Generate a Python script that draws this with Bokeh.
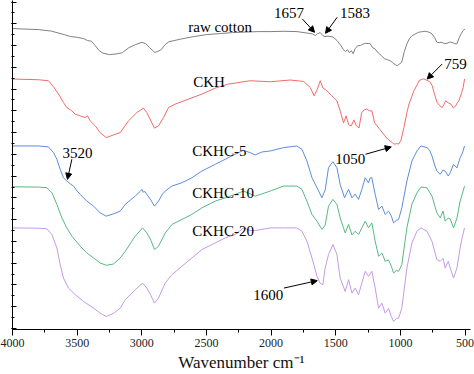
from bokeh.plotting import figure
from bokeh.models import Arrow, NormalHead, Label, SingleIntervalTicker, Range1d, CustomJSTickFormatter
from bokeh.embed import file_html
from bokeh.resources import INLINE

# ---------------- data (wavenumber in cm-1, offset transmittance in a.u.) ----------------
wn_raw = [4000, 3800, 3700, 3600, 3550, 3500, 3450, 3420, 3390, 3360, 3330, 3300, 3250, 3200,
          3150, 3100, 3050, 3000, 2970, 2940, 2900, 2880, 2850, 2820, 2790, 2750, 2700, 2600,
          2500, 2400, 2300, 2200, 2100, 2000, 1900, 1800, 1720, 1680, 1657, 1640, 1620, 1600,
          1583, 1560, 1520, 1490, 1460, 1440, 1425, 1410, 1395, 1380, 1365, 1350, 1330, 1310,
          1290, 1270, 1250, 1235, 1215, 1195, 1180, 1160, 1140, 1120, 1100, 1080, 1060, 1040,
          1025, 1005, 990, 970, 950, 930, 910, 880, 860, 830, 808, 780, 756, 735, 718, 700,
          680, 660, 640, 620, 602, 580, 563, 545, 530, 515, 500]
t_raw = [299, 298, 296.5, 293, 291, 290.3, 289, 287, 286.5, 282, 277, 274.5, 273, 273.7,
         275, 280, 283, 285.3, 284, 280, 275.3, 276, 278, 283, 286, 287, 288.5, 291,
         293, 294, 295, 295.5, 296, 296, 296.3, 296, 294.5, 293.7, 292, 294, 295, 292,
         291, 291.5, 290.5, 287, 282, 278, 276, 278, 275, 277, 274, 279, 282, 282,
         283.5, 284.3, 284, 284.3, 280, 278.7, 276, 273.7, 271, 268.7, 268, 267, 265, 263,
         262, 264, 265.3, 276, 283.7, 289, 292, 294, 295.3, 296, 296.3, 295.5, 293.7, 290, 285.3, 285,
         285.3, 284, 284.3, 285.5, 285.3, 284, 283.7, 290, 294, 297, 298.7]

wn_ckh = [4000, 3800, 3722, 3683, 3644, 3606, 3580, 3541, 3515, 3476, 3438, 3420, 3399, 3360,
          3322, 3275, 3219, 3167, 3103, 3038, 2987, 2961, 2902, 2871, 2832, 2793, 2742, 2639,
          2535, 2432, 2329, 2278, 2162, 2007, 1852, 1749, 1698, 1667, 1642, 1620, 1599, 1568,
          1530, 1491, 1466, 1440, 1420, 1400, 1380, 1360, 1340, 1320, 1300, 1280, 1260, 1240,
          1220, 1200, 1180, 1160, 1140, 1120, 1100, 1080, 1060, 1050, 1030, 1012, 995, 973,
          950, 934, 910, 896, 870, 857, 830, 818, 800, 787, 770, 754, 735, 716, 695, 677,
          660, 651, 630, 612, 590, 574, 560, 548, 530, 515, 504]
t_ckh = [248.7, 248, 247, 241, 233.7, 225.3, 220.3, 217, 213.7, 212, 210.3, 212, 207, 202,
         195.3, 190.3, 193, 195.3, 207, 215.3, 219.7, 215.3, 199.7, 202, 210.3, 220.3, 223.7, 228.7,
         233.7, 239.7, 243.7, 244.7, 247, 246, 247.7, 246.3, 240.3, 232, 238.7, 247, 239.7, 237,
         232, 227, 217, 205, 212, 203, 202, 208, 202, 200, 215, 218, 218.7, 217,
         217, 205, 202, 198.7, 195.3, 192, 189, 187, 185, 183.7, 184.3, 184, 188, 200.3,
         215, 223.7, 232, 237, 243, 247, 248.7, 248.7, 247.7, 247, 245.5, 242, 233, 225.3, 222, 220.3,
         224, 227, 225, 224, 220, 221.7, 225, 227, 233.7, 240, 248.7]

wn_c5 = [4000, 3800, 3722, 3683, 3657, 3631, 3606, 3580, 3548, 3528, 3500, 3476, 3425, 3373,
         3322, 3275, 3219, 3167, 3128, 3051, 3010, 2999, 2990, 2975, 2961, 2930, 2902, 2871,
         2840, 2819, 2767, 2690, 2613, 2535, 2432, 2355, 2278, 2213, 2162, 2123, 2070, 2007,
         1904, 1801, 1762, 1723, 1684, 1645, 1607, 1582, 1556, 1522, 1491, 1466, 1432, 1415,
         1401, 1375, 1350, 1324, 1298, 1272, 1260, 1247, 1235, 1221, 1195, 1169, 1143, 1118,
         1092, 1070, 1053, 1030, 1014, 989, 950, 911, 872, 841, 795, 775, 756, 735, 718, 692,
         670, 654, 630, 615, 589, 563, 538, 520, 504]
t_c5 = [182, 182, 181, 175.3, 168.7, 158.7, 150.3, 147, 143.7, 142, 137, 133.7, 127, 122,
        115.3, 112, 114.3, 117, 123.7, 132, 137, 138.7, 136, 136.5, 133.7, 128, 122, 127,
        134, 137, 142, 145.3, 150.3, 157, 163.7, 168.7, 173.7, 177.7, 175.3, 173, 176, 177,
        180.3, 182, 178.7, 167, 150.3, 140.3, 130.3, 138, 160.3, 166.3, 160.3, 143.7, 130.3, 135,
        138.7, 130.3, 134, 128.7, 138.7, 150.3, 148, 145, 150, 150.3, 133.7, 118.7, 122, 113.7,
        117, 112, 105.3, 108, 108.7, 120.3, 147, 167, 177, 182, 180.3, 178, 172, 163, 157, 153.7,
        158, 157, 152, 155.3, 163.7, 160, 170.3, 175, 182]

wn_c10 = [4000, 3800, 3734, 3695, 3657, 3618, 3580, 3541, 3476, 3425, 3373, 3322, 3275, 3219,
          3167, 3128, 3051, 2994, 2961, 2930, 2902, 2871, 2819, 2767, 2690, 2613, 2535, 2432,
          2355, 2278, 2213, 2162, 2123, 2007, 1904, 1801, 1762, 1723, 1684, 1645, 1607, 1582,
          1556, 1522, 1491, 1466, 1427, 1401, 1375, 1350, 1324, 1298, 1272, 1247, 1221, 1195,
          1169, 1143, 1118, 1092, 1070, 1053, 1030, 1014, 989, 950, 911, 872, 841, 795, 756,
          718, 692, 670, 654, 630, 615, 589, 563, 538, 520, 504]
t_c10 = [141.3, 141, 140.3, 135.3, 123.7, 110.3, 100.3, 92, 82, 75.3, 70.3, 65.3, 63, 64.3,
         70.3, 77, 92, 100.3, 95.3, 88, 78.7, 82, 95.3, 103.7, 108.7, 113.7, 120.3, 127,
         130.3, 133.7, 137, 134.3, 132, 137, 142, 142, 138.7, 127, 113.7, 107, 98.7, 103,
         122, 128.7, 123.7, 110.3, 95.3, 103.7, 93.3, 97, 93.7, 100.3, 107, 100.3, 105.3, 87,
         72, 75.3, 67, 68.3, 62, 55.3, 58, 57, 63.7, 100.3, 124, 135.3, 141, 140.3, 132,
         115.3, 110.3, 117, 107, 110, 109.3, 100.3, 110, 127, 135, 142]

wn_c20 = [4000, 3800, 3734, 3695, 3657, 3631, 3606, 3567, 3515, 3451, 3373, 3322, 3275, 3219,
          3167, 3128, 3051, 2994, 2961, 2930, 2902, 2871, 2819, 2767, 2690, 2613, 2535, 2432,
          2355, 2278, 2213, 2162, 2120, 2007, 1904, 1801, 1762, 1723, 1684, 1645, 1620, 1600,
          1582, 1556, 1522, 1491, 1466, 1427, 1401, 1375, 1350, 1324, 1298, 1272, 1247, 1221,
          1195, 1169, 1143, 1118, 1092, 1070, 1053, 1030, 1014, 989, 950, 911, 872, 841, 795,
          756, 718, 692, 670, 654, 630, 615, 589, 563, 538, 520, 504]
t_c20 = [100.3, 100, 99.3, 93.7, 80.3, 63.7, 50.3, 40.3, 33.7, 27, 20.3, 15.3, 12, 15,
         20.3, 28.7, 38.7, 45.3, 40.3, 33, 25.3, 30.3, 45.3, 53.7, 62, 70.3, 78.7, 85.3,
         90.3, 93.7, 100.3, 97.7, 97.7, 100.3, 100.3, 100.3, 97, 87, 70.3, 52, 45, 43.7,
         60.3, 73.7, 83.7, 73.7, 50.3, 37, 48.7, 35.3, 40.3, 33.7, 45.3, 57, 52, 57,
         40.3, 20.3, 25.3, 15.3, 20, 12, 7, 10, 10.3, 20.3, 60.3, 85.3, 97, 100.3, 97,
         87, 68.7, 67, 70, 60.3, 67, 60.3, 50.3, 60.3, 80.3, 92, 100.3]

series_names = ["raw cotton", "CKH", "CKHC-5", "CKHC-10", "CKHC-20"]
series_colors = ["#808080", "#f06b6b", "#5b8ddb", "#57b883", "#c49ae3"]

FONT = "Liberation Serif"

p = figure(width=474, height=374,
           x_range=Range1d(4000, 458), y_range=Range1d(-1, 327),
           output_backend="svg", toolbar_location=None,
           min_border_left=12, min_border_right=4, min_border_top=0, min_border_bottom=0)
p.outline_line_color = None
p.xgrid.visible = False
p.ygrid.visible = False
p.background_fill_color = "white"

for wn, t, c in zip([wn_raw, wn_ckh, wn_c5, wn_c10, wn_c20],
                    [t_raw, t_ckh, t_c5, t_c10, t_c20], series_colors):
    p.line(wn, t, line_color=c, line_width=1)

# axes
p.xaxis.ticker = SingleIntervalTicker(interval=500, num_minor_ticks=2)
p.xaxis.axis_label = "Wavenumber cm\u207b\u00b9"
p.xaxis.axis_label_text_font = FONT
p.xaxis.axis_label_text_font_style = "normal"
p.xaxis.axis_label_text_font_size = "17px"
p.xaxis.axis_label_text_color = "#111111"
p.xaxis.axis_label_standoff = 3
p.xaxis.major_label_text_font = FONT
p.xaxis.major_label_text_font_size = "12px"
p.xaxis.major_label_text_color = "#222222"
p.xaxis.major_label_standoff = 3
p.xaxis.major_tick_in = 0
p.xaxis.major_tick_out = 6
p.xaxis.minor_tick_in = 0
p.xaxis.minor_tick_out = 3
p.xaxis.axis_line_color = "black"
p.xaxis.major_tick_line_color = "black"
p.xaxis.minor_tick_line_color = "black"

p.yaxis.ticker = SingleIntervalTicker(interval=21.7, num_minor_ticks=2)
p.yaxis.formatter = CustomJSTickFormatter(code="return '';")
p.yaxis.major_label_text_font_size = "1px"
p.yaxis.major_label_standoff = 0
p.yaxis.major_tick_in = 4
p.yaxis.major_tick_out = 1
p.yaxis.minor_tick_in = 2
p.yaxis.minor_tick_out = 1
p.yaxis.axis_line_color = "black"
p.yaxis.major_tick_line_color = "black"
p.yaxis.minor_tick_line_color = "black"

# curve labels
name_pos = [(2641, 300.3), (2602, 246), (2610, 177), (2610, 135.3), (2610, 97)]
for name, (x, y) in zip(series_names, name_pos):
    p.add_layout(Label(x=x, y=y, text=name, text_font=FONT, text_font_size="15px",
                       text_color="black", text_baseline="alphabetic", text_align="left"))

# peak annotations
peak_labels = ["1657", "1583", "759", "1050", "3520", "1600"]
peak_pos = [(1978, 314.3), (1468, 314.3), (661, 263.7), (1504, 169.3), (3613, 175.3), (2138, 33.7)]
for t, (x, y) in zip(peak_labels, peak_pos):
    p.add_layout(Label(x=x, y=y, text=t, text_font=FONT, text_font_size="15px",
                       text_color="black", text_baseline="alphabetic", text_align="left"))

arrows = [((1759, 308.7), (1664, 295.3)),
          ((1489, 310.3), (1579, 294.3)),
          ((677, 263.7), (793, 248.7)),
          ((1270, 173.7), (1071, 181)),
          ((3541, 168.7), (3575, 148.7)),
          ((1901, 40.3), (1643, 47.7))]
for (x0, y0), (x1, y1) in arrows:
    p.add_layout(Arrow(end=NormalHead(size=6, fill_color="black", line_color="black", line_width=1),
                       x_start=x0, y_start=y0, x_end=x1, y_end=y1,
                       line_color="black", line_width=1))

open("out.html", "w").write(file_html(p, INLINE))
